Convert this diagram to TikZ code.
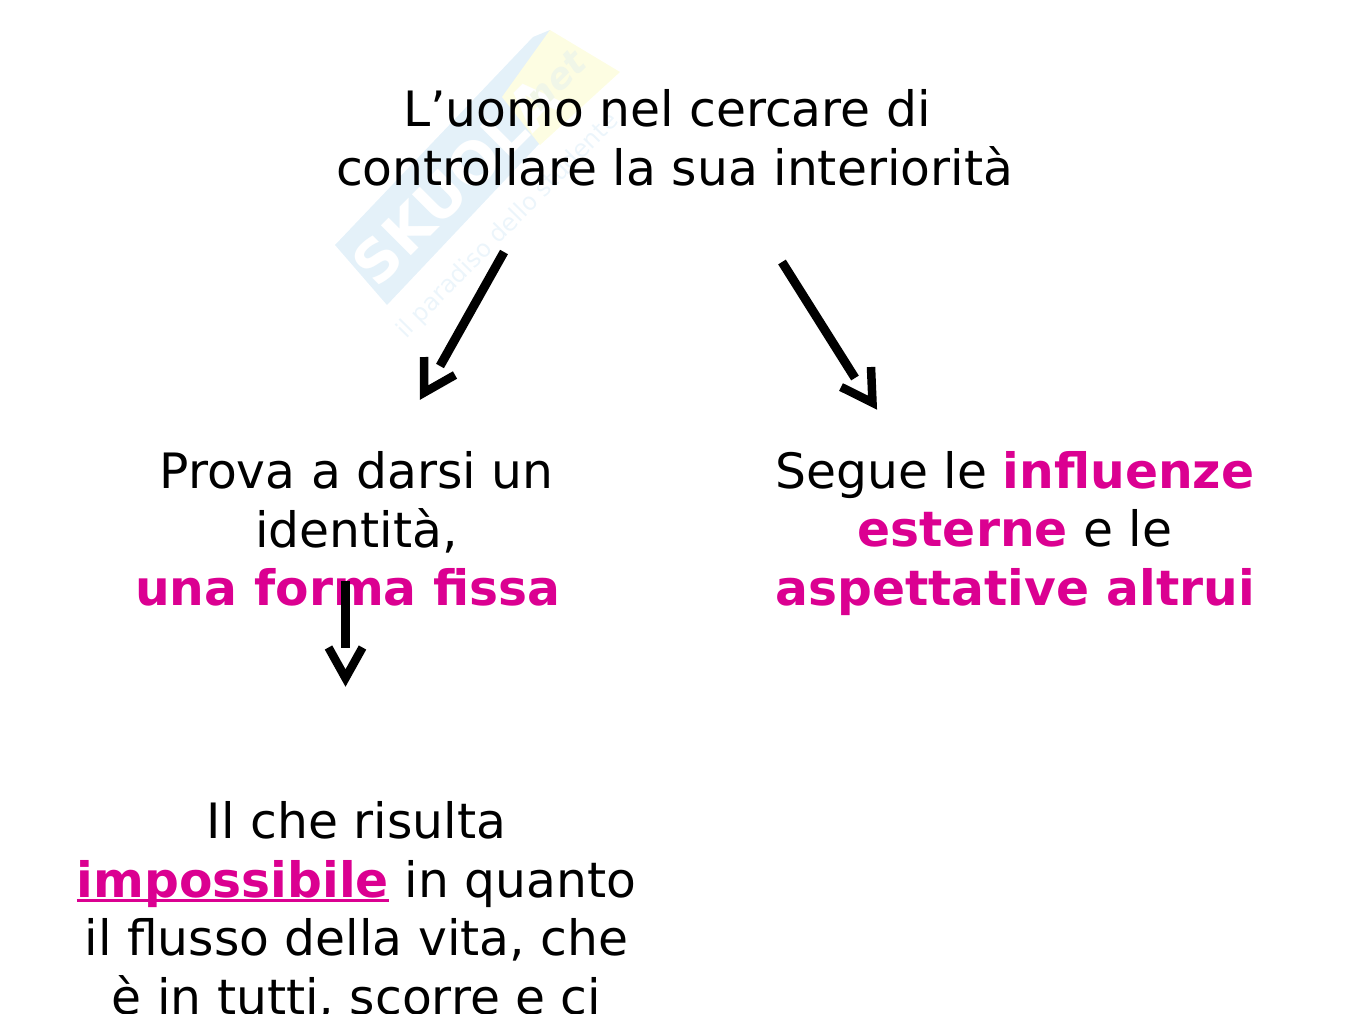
\documentclass[tikz,border=0pt]{standalone}
\usepackage{fontspec}
\setmainfont{DejaVu Sans}
\definecolor{pinkish}{RGB}{219,0,145}
\definecolor{wmblue}{RGB}{228,241,249}
\definecolor{wmyellow}{RGB}{253,253,226}
\definecolor{wmtext}{RGB}{236,245,251}
\definecolor{wmnet}{RGB}{240,246,232}
\newcommand{\hl}[1]{\textcolor{pinkish}{\bfseries #1}}
\newsavebox{\ulbox}
\newcommand{\hlu}[1]{\sbox{\ulbox}{\color{pinkish}\bfseries #1}\leavevmode\rlap{\textcolor{pinkish}{\rule[-5pt]{\wd\ulbox}{3pt}}}\usebox{\ulbox}}
\tikzset{
  x=1pt,y=-1pt,
  txt/.style={align=center,inner sep=0pt,font=\fontsize{48.75}{58.8}\selectfont,text=black},
  shaft/.style={line width=9pt},
  head/.style={line width=8.5pt,miter limit=10},
}
\begin{document}
\begin{tikzpicture}
\useasboundingbox (0,0) rectangle (1350,1013);
\clip (0,0) rectangle (1350,1013);
% watermark
\fill[wmblue] (335,245) -- (533,37) -- (550,30) -- (540,143) -- (387,305) -- cycle;
\fill[wmyellow] (550,30) -- (620,72) -- (540,145) -- (502,97) -- cycle;
\node[rotate=45,font=\bfseries\fontsize{58}{58}\selectfont,text=white,inner sep=0pt] (wm) at (456,181) {SKUOLA};
\node[rotate=45,font=\bfseries\itshape\fontsize{36}{36}\selectfont,text=wmnet,inner sep=0pt] (wm3) at (556,80) {net};
\node[rotate=45.5,font=\fontsize{24}{24}\selectfont,text=wmtext,inner sep=0pt] (wm2) at (508,226) {il paradiso dello studente};
% texts
\node[txt] (top) at (674.5,138) {L’uomo nel cercare di\hspace*{15pt}\\controllare la sua interiorità};
\node[txt] (left) at (348,529) {\hspace*{17pt}Prova a darsi un\\\hspace*{17pt}identità,\\\hl{una forma fissa}};
\node[txt] (right) at (1015,533.5) {Segue le \hl{influenze}\\\hl{esterne} e le\\\hl{aspettative altrui}};
\node[txt,anchor=north] (bottom) at (356.5,801) {Il che risulta\\\hlu{impossibile} in quanto\\il flusso della vita, che\\è in tutti, scorre e ci};
% arrows
\coordinate (a1s) at (504,252); \coordinate (a1e) at (440,366);
\coordinate (a1p) at (424,357); \coordinate (a1t) at (424.2,392.5); \coordinate (a1q) at (455,375);
\coordinate (a2s) at (782,262); \coordinate (a2e) at (855,378);
\coordinate (a2p) at (871,367); \coordinate (a2t) at (872.5,402.7); \coordinate (a2q) at (841,387);
\coordinate (a3s) at (345,581); \coordinate (a3e) at (345,648);
\coordinate (a3p) at (328.5,647.5); \coordinate (a3t) at (345.5,678); \coordinate (a3q) at (362.5,647.5);
\draw[shaft] (a1s) -- (a1e);
\draw[head] (a1p) -- (a1t) -- (a1q);
\draw[shaft] (a2s) -- (a2e);
\draw[head] (a2p) -- (a2t) -- (a2q);
\draw[shaft] (a3s) -- (a3e);
\draw[head] (a3p) -- (a3t) -- (a3q);
\end{tikzpicture}
\end{document}
